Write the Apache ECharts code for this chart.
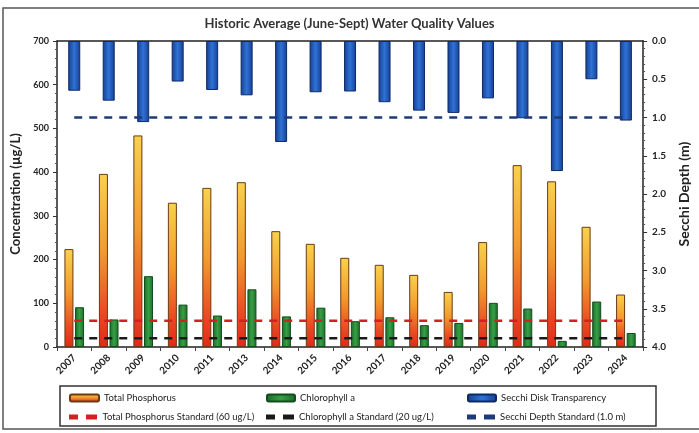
<!DOCTYPE html>
<html>
<head>
<meta charset="utf-8">
<script src="https://cdn.jsdelivr.net/npm/echarts@6/dist/echarts.min.js"></script>
<style>
  html, body { margin: 0; padding: 0; background: #ffffff; }
  #chart { width: 699px; height: 433px; }
</style>
</head>
<body>
<div id="chart"></div>
<script>
// ---- data ----
var years = ['2007','2008','2009','2010','2011','2013','2014','2015','2016','2017','2018','2019','2020','2021','2022','2023','2024'];
var totalPhosphorus = [224, 396, 484, 330, 364, 377, 265, 236, 204, 188, 165, 126, 240, 416, 379, 275, 120];
var chlorophyllA = [91, 63, 162, 97, 72, 132, 70, 90, 59, 68, 50, 55, 101, 88, 14, 104, 32];
var secchiDepth = [0.65, 0.78, 1.06, 0.53, 0.64, 0.71, 1.32, 0.67, 0.66, 0.80, 0.91, 0.94, 0.75, 1.01, 1.70, 0.50, 1.04];
var tpStandard = 60;
var chlStandard = 20;
var secchiStandard = 1.0;
var leftTicks = [0, 700, 100];
var rightTicks = [0, 4, 0.5];

var FONT = 'Lato, "Open Sans", sans-serif';
var TXT = '#222222';
var DASH_ICON = 'path://M0,0H9V5H0Z M17,0H28V5H17Z';

var chart = echarts.init(document.getElementById('chart'), null, { renderer: 'canvas' });

function legendItem(name, left, top, w, h, icon) {
  var item = { name: name };
  if (icon) { item.icon = icon; }
  return {
    data: [item], left: left, top: top, padding: 0,
    itemWidth: w, itemHeight: h, selectedMode: false,
    textStyle: { fontFamily: FONT, fontSize: 9.5, color: TXT }
  };
}

var option = {
  backgroundColor: '#ffffff',
  animation: false,
  title: {
    text: 'Historic Average (June-Sept) Water Quality Values',
    left: 'center', top: 12,
    textStyle: { fontFamily: FONT, fontSize: 13, fontWeight: 'bold', color: '#333' }
  },
  graphic: [
    { type: 'rect', shape: { x: 3, y: 8, width: 760, height: 421 },
      style: { fill: 'none', stroke: '#555', lineWidth: 1.5 }, silent: true },
    { type: 'rect', shape: { x: 60, y: 386, width: 596, height: 40 },
      style: { fill: 'none', stroke: '#333', lineWidth: 1.5 }, silent: true }
  ],
  legend: [
    legendItem('Total Phosphorus', 69, 393, 29, 7),
    legendItem('Chlorophyll a', 266, 393, 28, 7),
    legendItem('Secchi Disk Transparency', 467, 393, 28, 7),
    legendItem('Total Phosphorus Standard (60 ug/L)', 69, 412, 29, 5, DASH_ICON),
    legendItem('Chlorophyll a Standard (20 ug/L)', 266, 412, 28, 5, DASH_ICON),
    legendItem('Secchi Depth Standard (1.0 m)', 467, 412, 28, 5, DASH_ICON)
  ],
  grid: { left: 57, right: 46, top: 41, bottom: 86, containLabel: false },
  xAxis: [
    {
      type: 'category', data: years, position: 'bottom',
      axisLine: { show: true, lineStyle: { color: '#222', width: 1.5 } },
      axisTick: { show: true, length: 4, lineStyle: { color: '#444' } },
      axisLabel: { interval: 0, rotate: 45, margin: 9, fontFamily: FONT, fontSize: 10, fontWeight: 'bold', color: TXT },
      splitLine: { show: false }
    },
    {
      type: 'category', data: years, position: 'top',
      axisLine: { show: true, lineStyle: { color: '#222', width: 1.5 } },
      axisTick: { show: false }, axisLabel: { show: false }, splitLine: { show: false }
    }
  ],
  yAxis: [
    {
      type: 'value', position: 'left', min: leftTicks[0], max: leftTicks[1], interval: leftTicks[2],
      name: 'Concentration (µg/L)', nameLocation: 'middle', nameGap: 26, nameRotate: 90,
      nameTextStyle: { fontFamily: FONT, fontSize: 13, fontWeight: 'bold', color: TXT },
      axisLine: { show: true, lineStyle: { color: '#222', width: 1.5 } },
      axisTick: { show: true, length: 4, lineStyle: { color: '#333' } },
      minorTick: { show: true, splitNumber: 5, length: 2, lineStyle: { color: '#555' } },
      axisLabel: { margin: 8, fontFamily: FONT, fontSize: 9, fontWeight: 'bold', color: TXT },
      splitLine: { show: false }
    },
    {
      type: 'value', position: 'right', min: rightTicks[0], max: rightTicks[1], interval: rightTicks[2], inverse: true,
      name: 'Secchi Depth (m)', nameLocation: 'middle', nameGap: 33, nameRotate: 90,
      nameTextStyle: { fontFamily: FONT, fontSize: 14, fontWeight: 'bold', color: TXT },
      axisLine: { show: true, lineStyle: { color: '#222', width: 1.5 } },
      axisTick: { show: true, length: 4, lineStyle: { color: '#333' } },
      minorTick: { show: true, splitNumber: 5, length: 2, lineStyle: { color: '#555' } },
      axisLabel: { margin: 9, fontFamily: FONT, fontSize: 10, fontWeight: 'bold', color: TXT,
        formatter: function (v) { return v.toFixed(1); } },
      splitLine: { show: false }
    }
  ],
  series: [
    {
      name: 'Total Phosphorus', type: 'bar', xAxisIndex: 0, yAxisIndex: 0,
      data: totalPhosphorus, barWidth: 9, barGap: '18%',
      itemStyle: {
        color: new echarts.graphic.LinearGradient(0, 0, 0, 1, [
          { offset: 0, color: '#f8d24c' }, { offset: 0.45, color: '#f29a2e' },
          { offset: 0.8, color: '#ea4a22' }, { offset: 1, color: '#e02a1a' }
        ]),
        borderColor: '#6b3a12', borderWidth: 1
      }
    },
    {
      name: 'Chlorophyll a', type: 'bar', xAxisIndex: 0, yAxisIndex: 0,
      data: chlorophyllA, barWidth: 9,
      itemStyle: {
        color: new echarts.graphic.LinearGradient(0, 0, 1, 0, [
          { offset: 0, color: '#1c6a28' }, { offset: 0.5, color: '#36a046' }, { offset: 1, color: '#1c6a28' }
        ]),
        borderColor: '#144d1c', borderWidth: 1
      }
    },
    {
      name: 'Secchi Disk Transparency', type: 'bar', xAxisIndex: 1, yAxisIndex: 1,
      data: secchiDepth, barWidth: 12,
      itemStyle: {
        color: new echarts.graphic.LinearGradient(0, 0, 1, 0, [
          { offset: 0, color: '#173f91' }, { offset: 0.5, color: '#2f72d6' }, { offset: 1, color: '#173f91' }
        ]),
        borderColor: '#0e2a66', borderWidth: 1
      }
    },
    {
      name: 'Total Phosphorus Standard (60 ug/L)', type: 'line', xAxisIndex: 0, yAxisIndex: 0,
      data: years.map(function () { return tpStandard; }), symbol: 'none', z: 5,
      itemStyle: { color: '#d42020' },
      lineStyle: { color: '#d42020', width: 2.5, type: [8, 7] }
    },
    {
      name: 'Chlorophyll a Standard (20 ug/L)', type: 'line', xAxisIndex: 0, yAxisIndex: 0,
      data: years.map(function () { return chlStandard; }), symbol: 'none', z: 5,
      itemStyle: { color: '#1a1a1a' },
      lineStyle: { color: '#1a1a1a', width: 2.5, type: [8, 7] }
    },
    {
      name: 'Secchi Depth Standard (1.0 m)', type: 'line', xAxisIndex: 1, yAxisIndex: 1,
      data: years.map(function () { return secchiStandard; }), symbol: 'none', z: 5,
      itemStyle: { color: '#1f3a7a' },
      lineStyle: { color: '#1f3a7a', width: 2.5, type: [8, 7] }
    }
  ]
};
chart.setOption(option);
</script>
</body>
</html>
